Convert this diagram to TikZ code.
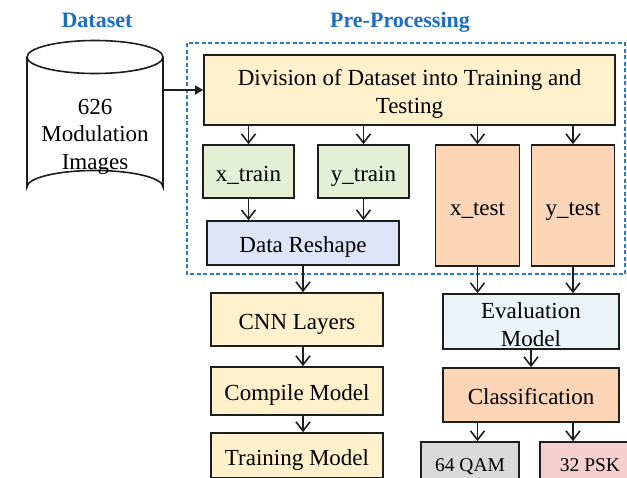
\documentclass[tikz,border=0pt]{standalone}
\usepackage{fontspec}
\setmainfont{Liberation Serif}
\usetikzlibrary{arrows.meta}
\definecolor{ttlblue}{HTML}{1B6EC2}
\definecolor{dashblue}{HTML}{2A78C8}
\definecolor{cYellow}{HTML}{FFF1CC}
\definecolor{cGreen}{HTML}{E5EFD6}
\definecolor{cPeach}{HTML}{FBD5B6}
\definecolor{cLav}{HTML}{DEE5F8}
\definecolor{cIce}{HTML}{EBF4F8}
\definecolor{cGray}{HTML}{D9D9D9}
\definecolor{cPink}{HTML}{F6CFCF}
\definecolor{edge}{HTML}{1E1E1E}
\tikzset{
  box/.style={draw=edge, line width=1.7pt, inner sep=0pt, align=center,
    font=\fontsize{23}{28}\selectfont, text height=19pt, text depth=0pt},
  tallbox/.style={draw=edge, line width=1.7pt, inner sep=0pt},
  boxtxt/.style={align=center, font=\fontsize{23}{28}\selectfont},
  smallbox/.style={box, font=\fontsize{19.5}{23}\selectfont, text height=14pt},
  ttl/.style={text=ttlblue, font=\fontsize{22}{26}\selectfont\bfseries, anchor=base},
  arr/.style={draw=edge, line width=1.6pt,
    -{Straight Barb[length=9pt,width=14pt,line width=1.6pt]}},
  feed/.style={draw=edge, line width=1.6pt, -{Triangle[length=8pt,width=9pt]}},
}
\begin{document}
\begin{tikzpicture}[x=1pt,y=-1pt]
\useasboundingbox (0,0) rectangle (627,477);
\clip (0,0) rectangle (627,477);

% section titles
\node[ttl] (tds) at (97,27) {Dataset};
\node[ttl] (tpp) at (400,27) {Pre-Processing};

% dataset cylinder
\draw[edge, line width=1.6pt, fill=white]
  (27,57) -- (27,187) arc[start angle=180, end angle=360, x radius=68, y radius=16.5]
  -- (163,57);
\draw[edge, line width=1.6pt] (95,57) ellipse[x radius=68, y radius=16.5];
\node[align=center, font=\fontsize{23}{27.5}\selectfont] (ds) at (95,136.5)
  {626\\Modulation\\Images};
\coordinate (dsr) at (163,90);

% pre-processing frame
\draw[dashblue, line width=1.5pt, dash pattern=on 4pt off 2.5pt] (187,43) rectangle (625,274);

\node[tallbox, fill=cYellow, minimum width=411pt, minimum height=70pt,
  label={[boxtxt, yshift=-4pt]center:{Division of Dataset into Training and\\Testing}}]
  (div) at (409.5,90) {};
\node[box, fill=cGreen, minimum width=91pt, minimum height=53pt] (xtr) at (248.5,171.5) {x\_train};
\node[box, fill=cGreen, minimum width=91pt, minimum height=53pt] (ytr) at (363.5,171.5) {y\_train};
\node[box, fill=cPeach, minimum width=84pt, minimum height=121pt] (xte) at (477.5,205.5) {x\_test};
\node[box, fill=cPeach, minimum width=83pt, minimum height=121pt] (yte) at (573,205.5) {y\_test};
\node[box, fill=cLav, minimum width=192pt, minimum height=44pt] (rs) at (303,243) {Data Reshape};

% training branch
\node[box, fill=cYellow, minimum width=172pt, minimum height=53pt] (cnn) at (297,319.5) {CNN Layers};
\node[box, fill=cYellow, minimum width=172pt, minimum height=48pt] (cmp) at (297,391) {Compile Model};
\node[box, fill=cYellow, minimum width=172pt, minimum height=45pt] (trn) at (297,455.5) {Training Model};

% evaluation branch
\node[tallbox, fill=cIce, minimum width=176pt, minimum height=55pt,
  label={[boxtxt, yshift=-3pt]center:{Evaluation\\Model}}] (ev) at (531,321.5) {};
\node[box, fill=cPeach, minimum width=176pt, minimum height=54pt] (cls) at (531,395) {Classification};
\node[smallbox, fill=cGray, minimum width=98pt, minimum height=45pt] (qam) at (470,464.5) {64 QAM};
\node[smallbox, fill=cPink, minimum width=100pt, minimum height=45pt] (psk) at (590,464.5) {32 PSK};

% connectors
\draw[feed] (dsr) -- (dsr -| div.west);
\draw[arr] (div.south -| xtr.north) -- (xtr.north);
\draw[arr] (div.south -| ytr.north) -- (ytr.north);
\draw[arr] (div.south -| xte.north) -- (xte.north);
\draw[arr] (div.south -| yte.north) -- (yte.north);
\draw[arr] (xtr.south) -- (xtr.south |- rs.north);
\draw[arr] (ytr.south) -- (ytr.south |- rs.north);
\draw[arr] (rs.south) -- (rs.south |- cnn.north);
\draw[arr] (cnn.south -| rs.south) -- (cmp.north -| rs.south);
\draw[arr] (cmp.south -| rs.south) -- (trn.north -| rs.south);
\draw[arr] (xte.south) -- (xte.south |- ev.north);
\draw[arr] (yte.south) -- (yte.south |- ev.north);
\draw[arr] (ev.south) -- (cls.north);
\draw[arr] (cls.south -| xte.south) -- (qam.north -| xte.south);
\draw[arr] (cls.south -| yte.south) -- (psk.north -| yte.south);
\end{tikzpicture}
\end{document}
